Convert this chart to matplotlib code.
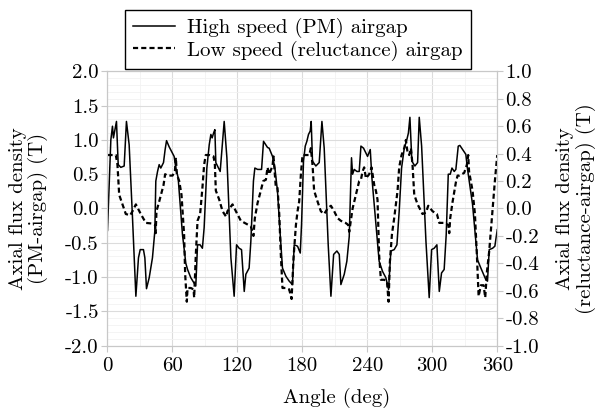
import numpy as np
import matplotlib
matplotlib.use("Agg")
import matplotlib.pyplot as plt
from matplotlib.ticker import MultipleLocator, FormatStrFormatter

plt.rcParams['font.family'] = 'serif'
plt.rcParams['font.serif'] = ['cmr10', 'DejaVu Serif']
plt.rcParams['axes.unicode_minus'] = False
plt.rcParams['mathtext.fontset'] = 'cm'

# high speed (PM) airgap, left axis (T)
hs_angle = [0.3, 3.4, 4.9, 5.8, 7.0, 8.6, 10.2, 12.6, 15.7, 17.8, 20.3, 23.4, 26.5, 28.9, 30.5,
            33.5, 34.8, 36.3, 38.8, 41.8, 44.0, 44.9, 46.5, 48.0, 49.5, 52.0, 53.5, 54.8, 57.2,
            61.8, 63.4, 65.5, 69.5, 72.6, 74.2, 77.2, 80.3, 81.8, 83.4, 85.8, 87.9, 89.5, 92.0,
            94.2, 95.7, 96.9, 98.2, 99.4, 100.3, 104.3, 108.0, 110.5, 114.2, 117.2, 119.4, 121.8,
            124.0, 126.5, 128.0, 131.0, 132.6, 135.0, 136.3, 138.8, 142.5, 144.3, 148.0, 149.5,
            152.6, 154.8, 157.2, 159.7, 161.8, 165.0, 168.0, 171.0, 172.6, 175.7, 178.2, 179.4,
            181.2, 182.8, 184.3, 185.8, 187.4, 188.3, 189.5, 192.6, 195.7, 198.2, 200.3, 204.0,
            206.5, 209.0, 212.0, 214.2, 215.7, 218.8, 221.2, 223.4, 225.5, 226.5, 228.0, 230.5,
            232.6, 234.2, 236.6, 240.3, 242.8, 244.3, 248.0, 251.0, 254.2, 257.2, 259.7, 261.8,
            264.9, 267.4, 269.5, 271.7, 274.2, 276.5, 278.0, 279.4, 281.2, 284.0, 286.5, 288.0,
            290.2, 294.2, 297.2, 299.4, 301.8, 304.3, 306.5, 308.6, 311.0, 312.9, 314.8, 316.6,
            318.2, 320.3, 321.8, 324.0, 325.5, 331.0, 332.6, 337.2, 341.8, 344.9, 349.5, 351.0,
            352.6, 355.7, 357.8, 360.0]
hs_flux = [-0.32, 1.0, 1.2, 1.03, 1.13, 1.27, 0.64, 0.6, 0.62, 1.27, 0.93, -0.14, -1.28, -0.72, -0.6,
           -0.6, -0.72, -1.17, -1.01, -0.72, -0.33, 0.4, 0.54, 0.64, 0.59, 0.67, 0.86, 0.99, 0.9,
           0.76, 0.59, 0.45, -0.38, -0.8, -0.89, -1.01, -1.09, -1.13, -0.53, -0.53, -0.58, -0.28, 0.59,
           0.93, 1.08, 1.03, 1.1, 1.15, 0.67, 0.54, 1.27, 0.74, -0.72, -1.28, -0.53, -0.58,
           -0.6, -1.21, -0.96, -0.87, -0.48, 0.4, 0.59, 0.57, 0.57, 0.98, 0.89, 0.88,
           0.76, 0.59, 0.25, -0.38, -0.87, -0.99, -1.06, -1.11, -0.53, -0.55, -0.65, -0.23,
           0.69, 0.91, 0.98, 1.08, 1.13, 1.27, 0.69, 0.62, 0.67, 1.27, 0.88, -0.53,
           -1.28, -0.67, -0.62, -0.67, -1.11, -0.96, -0.77, -0.41, 0.74, 0.5, 0.57, 0.54,
           0.54, 0.91, 0.88, 0.76, 0.86, 0.45, -0.23, -0.77, -0.92, -1.01, -1.18, -0.62,
           -0.6, -0.53, -0.04, 0.59, 0.88, 1.0, 1.1, 1.33, 0.69, 0.62, 0.67, 1.33,
           0.91, -0.48, -1.3, -0.6, -0.58, -0.53, -1.21, -0.94, -0.89, -0.38, 0.5, 0.5,
           0.59, 0.54, 0.57, 0.91, 0.92, 0.79, 0.57, 0.06, -0.75, -0.87, -1.04, -1.06,
           -0.6, -0.58, -0.55, -0.31]

# low speed (reluctance) airgap, right axis (T)
ls_angle = [0.3, 8.0, 9.5, 11.1, 14.2, 17.2, 21.2, 23.4, 26.5, 31.0, 35.7, 41.8, 44.3, 44.8, 45.5,
            48.0, 52.0, 53.5, 55.7, 60.3, 62.5, 63.4, 64.3, 66.5, 68.6, 71.0, 72.0, 73.5, 74.2,
            77.2, 79.7, 80.3, 81.8, 83.4, 85.8, 87.9, 89.5, 91.0, 94.2, 98.2, 99.4, 100.3, 103.4,
            106.5, 109.8, 111.0, 115.7, 118.8, 123.4, 128.0, 132.6, 135.0, 136.3, 138.8, 141.8,
            144.0, 146.5, 148.0, 149.5, 152.6, 153.5, 155.7, 157.2, 158.8, 160.3, 161.8, 165.0,
            168.0, 170.2, 172.0, 174.2, 175.7, 177.2, 178.8, 180.3, 183.4, 186.5, 188.0, 189.5,
            191.0, 194.2, 197.2, 200.3, 203.4, 206.5, 209.5, 212.6, 215.7, 220.0, 222.5, 223.4,
            224.3, 226.5, 229.5, 232.6, 234.2, 235.7, 237.2, 238.8, 241.8, 244.0, 246.5, 248.0,
            249.5, 251.0, 252.6, 255.7, 258.2, 259.7, 260.9, 262.8, 264.9, 268.0, 269.5, 271.7,
            274.2, 275.7, 277.2, 278.8, 280.3, 281.8, 283.4, 286.5, 291.0, 294.2, 296.3, 300.3,
            304.3, 306.5, 311.0, 314.8, 315.7, 316.6, 318.8, 321.8, 323.4, 325.0, 329.5, 332.0,
            333.2, 334.0, 337.2, 339.4, 341.2, 342.8, 344.9, 347.4, 348.9, 350.5, 352.6, 355.7,
            357.8, 360.0]
ls_flux = [0.39, 0.39, 0.32, 0.10, 0.03, -0.04, -0.05, -0.02, 0.03, -0.04, -0.105, -0.11, -0.12, -0.18, -0.02,
           0.05, 0.17, 0.25, 0.24, 0.24, 0.27, 0.37, 0.25, 0.2, 0.10, -0.19, -0.48, -0.68, -0.58,
           -0.58, -0.59, -0.65, -0.34, -0.09, -0.04, 0.15, 0.32, 0.39, 0.39, 0.38, 0.32, 0.13, 0.065,
           -0.02, -0.06, -0.02, 0.03, -0.02, -0.09, -0.11, -0.13, -0.2, -0.07, 0.04, 0.13,
           0.2, 0.21, 0.3, 0.25, 0.31, 0.38, 0.15, 0.15, -0.04, -0.34, -0.58, -0.58,
           -0.59, -0.66, -0.36, -0.12, -0.02, 0.05, 0.25, 0.39, 0.39, 0.39, 0.44, 0.32,
           0.13, 0.05, -0.02, -0.04, 0.0, 0.02, -0.02, -0.07, -0.09, -0.105, -0.12, -0.17,
           -0.12, 0.0, 0.1, 0.2, 0.21, 0.27, 0.3, 0.22, 0.25, 0.3, 0.17, 0.13,
           0.065, -0.34, -0.52, -0.52, -0.53, -0.68, -0.39, -0.19, -0.07, 0.13, 0.3, 0.39,
           0.44, 0.5, 0.41, 0.39, 0.44, 0.32, 0.10, 0.03, -0.04, -0.03, 0.02, -0.02,
           -0.04, -0.105, -0.105, -0.12, -0.18, -0.07, 0.05, 0.19, 0.24, 0.24, 0.26, 0.32,
           0.39, 0.27, 0.13, -0.04, -0.34, -0.64, -0.56, -0.56, -0.65, -0.46, -0.31, 0.0,
           0.2, 0.39]

FS = 15

fig = plt.figure(figsize=(6.02, 4.08), dpi=100)
ax = fig.add_axes([0.178, 0.153, 0.648, 0.672])
ax2 = ax.twinx()

l1, = ax.plot(hs_angle, hs_flux, color='black', lw=1.1)
l2, = ax2.plot(ls_angle, ls_flux, color='black', lw=1.6, ls=(0, (2.3, 1.4)))

ax.set_xlim(0, 360)
ax.set_ylim(-2, 2)
ax2.set_ylim(-1, 1)
ax.xaxis.set_major_locator(MultipleLocator(60))
ax.xaxis.set_minor_locator(MultipleLocator(30))
ax.yaxis.set_major_locator(MultipleLocator(0.5))
ax.yaxis.set_minor_locator(MultipleLocator(0.1))
ax2.yaxis.set_major_locator(MultipleLocator(0.2))
ax2.yaxis.set_minor_locator(MultipleLocator(0.1))
ax.yaxis.set_major_formatter(FormatStrFormatter('%.1f'))
ax2.yaxis.set_major_formatter(FormatStrFormatter('%.1f'))

ax.grid(True, which='major', color='#dcdcdc', lw=0.8)
ax.grid(True, which='minor', color='#f2f2f2', lw=0.6)
ax.set_axisbelow(True)

for a in (ax, ax2):
    for s in a.spines.values():
        s.set_color('#c8c8c8')
        s.set_linewidth(0.8)
    a.tick_params(which='major', color='#c8c8c8', length=4, width=0.8, labelsize=FS, pad=2)
    a.tick_params(which='minor', length=0)
ax.tick_params(axis='x', pad=4)

ax.set_xlabel('Angle (deg)', fontsize=FS)
ax.xaxis.set_label_coords(0.588, -0.209)
ax.xaxis.label.set_va('baseline')
ax.set_ylabel('Axial flux density\n(PM-airgap) (T)', fontsize=FS, linespacing=1.1)
ax.yaxis.set_label_coords(-0.151, 0.5)
ax2.set_ylabel('Axial flux density\n(reluctance-airgap) (T)', fontsize=FS, linespacing=1.1)
ax2.yaxis.set_label_coords(1.151, 0.5)

fig.legend([l1, l2], ['High speed (PM) airgap', 'Low speed (reluctance) airgap'],
           loc='upper center', bbox_to_anchor=(0.4945, 0.9755), fontsize=FS,
           fancybox=False, edgecolor='black', framealpha=1, handlelength=2.0,
           borderpad=0.4, labelspacing=0.1, handletextpad=0.6, borderaxespad=0)

fig.savefig('out.png', dpi=100)
